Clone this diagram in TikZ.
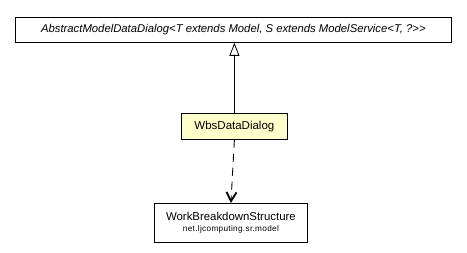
\documentclass[tikz,border=0pt]{standalone}
\usepackage{fontspec}
\setmainfont{Liberation Sans}
\newfontfamily\pkgfont[LetterSpace=4]{Liberation Sans}
\usetikzlibrary{arrows.meta}
\definecolor{classfill}{HTML}{FFFFCC}
\tikzset{
  umlbox/.style={draw=black, line width=0.8pt, inner sep=0pt, anchor=north west},
  gen/.style={-{Triangle[open, length=13pt, width=10pt]}, line width=0.8pt},
  dep/.style={-{Straight Barb[length=9pt, width=10pt, line width=1.8pt]}, dashed, dash pattern=on 8pt off 6pt, line width=0.9pt},
}
\begin{document}
\begin{tikzpicture}[x=1pt, y=-1pt]
\useasboundingbox (0,0) rectangle (467,253);
% abstract parent class
\node[umlbox, minimum width=436pt, minimum height=25pt] (abs) at (15,17)
  {\fontsize{11.3}{13}\selectfont\itshape AbstractModelDataDialog<T extends Model, S extends ModelService<T, ?>{}>};
% dialog class
\node[umlbox, fill=classfill, minimum width=106pt, minimum height=26pt] (wbs) at (181,113)
  {\fontsize{11.5}{13}\selectfont WbsDataDialog};
% model class with its package
\node[umlbox, minimum width=153pt, minimum height=39pt, align=center] (work) at (154,203)
  {\fontsize{11.4}{13}\selectfont WorkBreakdownStructure\\[-1pt]\pkgfont\fontsize{8.2}{9}\selectfont net.ljcomputing.sr.model};
% connectors
\draw[gen] (wbs.north) -- (abs.south -| wbs.north);
\draw[dep] (wbs.south) -- (work.north);
\end{tikzpicture}
\end{document}
